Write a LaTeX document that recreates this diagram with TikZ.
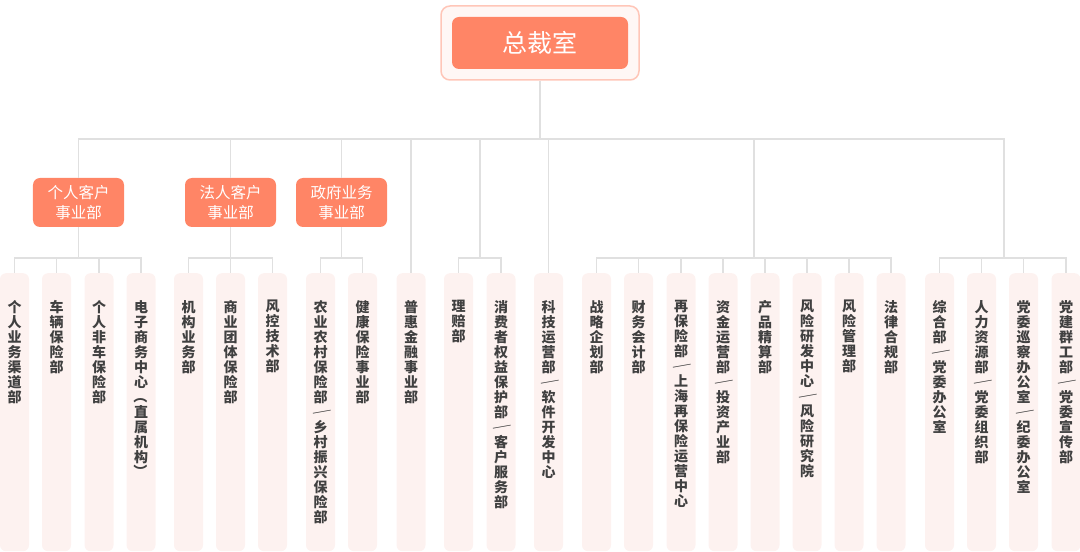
\documentclass[tikz,border=0pt]{standalone}
\usepackage{fontspec}
\usepackage{graphicx}
\setmainfont{Noto Sans CJK SC}
\usepackage{tikz}

\definecolor{coral}{HTML}{FF8566}
\definecolor{coralrim}{HTML}{FFC6B8}
\definecolor{coralpale}{HTML}{FFF7F5}
\definecolor{deptfill}{HTML}{FDF2F0}
\definecolor{depttext}{HTML}{404040}
\definecolor{linkgray}{HTML}{E0E0E0}

\makeatletter
\newcommand\slsh{\rotatebox[origin=c]{-35}{／}}
\newcommand\lpar{\rotatebox[origin=c]{-90}{（}}
\newcommand\rpar{\rotatebox[origin=c]{-90}{）}}
\newcommand\vlabel[1]{\parbox[t][224bp][t]{16bp}{\centering\baselineskip=15bp\lineskip=0pt\lineskiplimit=-5bp\@tfor\vl@c:=#1\do{\vl@c\par}}}
\makeatother

\begin{document}
\begin{tikzpicture}[x=1bp,y=-1bp,
	ceoframe/.style={draw=coralrim, line width=1.5bp, fill=coralpale, rounded corners=9bp, minimum width=198bp, minimum height=74bp},
	ceo/.style={fill=coral, text=white, rounded corners=7bp, minimum width=176bp, minimum height=52bp, font=\fontsize{25bp}{28bp}\selectfont},
	unit/.style={fill=coral, text=white, rounded corners=7bp, minimum width=91bp, minimum height=49bp, inner sep=0pt, align=center, font=\fontsize{15.5bp}{19.5bp}\selectfont},
	dept/.style={fill=deptfill, text=depttext, rounded corners=6bp, anchor=north, minimum width=29bp, inner xsep=6.5bp, inner ysep=27bp, font=\fontsize{14bp}{15bp}\selectfont\bfseries},
	link/.style={draw=linkgray, line width=1.6bp}]
	\useasboundingbox (0,0) rectangle (1080,552);
	% top
	\node[ceoframe] (top) at (540,43) {};
	\node[ceo] (ceo) at (540,43) {总裁室};
	% business units
	\node[unit] (grp) at (78.5,202.5) {个人客户\\事业部};
	\node[unit] (frk) at (230.5,202.5) {法人客户\\事业部};
	\node[unit] (zf) at (341.5,202.5) {政府业务\\事业部};
	% departments
	\node[dept] (gr) at (14.5,273) {\vlabel{个人业务渠道部}};
	\node[dept] (cl) at (56.5,273) {\vlabel{车辆保险部}};
	\node[dept] (fc) at (99,273) {\vlabel{个人非车保险部}};
	\node[dept] (ec) at (141,273) {\vlabel{电子商务中心\lpar 直属机构\rpar}};
	\node[dept] (jg) at (188.5,273) {\vlabel{机构业务部}};
	\node[dept] (tt) at (230.5,273) {\vlabel{商业团体保险部}};
	\node[dept] (fk) at (272.5,273) {\vlabel{风控技术部}};
	\node[dept] (ny) at (320.5,273) {\vlabel{农业农村保险部\slsh 乡村振兴保险部}};
	\node[dept] (jk) at (362.5,273) {\vlabel{健康保险事业部}};
	\node[dept] (ph) at (411,273) {\vlabel{普惠金融事业部}};
	\node[dept] (lp) at (458.5,273) {\vlabel{理赔部}};
	\node[dept] (xb) at (501,273) {\vlabel{消费者权益保护部\slsh 客户服务部}};
	\node[dept] (kj) at (548.5,273) {\vlabel{科技运营部\slsh 软件开发中心}};
	\node[dept] (zl) at (596.5,273) {\vlabel{战略企划部}};
	\node[dept] (cw) at (638.5,273) {\vlabel{财务会计部}};
	\node[dept] (zb) at (681,273) {\vlabel{再保险部\slsh 上海再保险运营中心}};
	\node[dept] (zj) at (723,273) {\vlabel{资金运营部\slsh 投资产业部}};
	\node[dept] (cp) at (765,273) {\vlabel{产品精算部}};
	\node[dept] (fy) at (807,273) {\vlabel{风险研发中心\slsh 风险研究院}};
	\node[dept] (fg) at (849,273) {\vlabel{风险管理部}};
	\node[dept] (fl) at (891,273) {\vlabel{法律合规部}};
	\node[dept] (zh) at (939.5,273) {\vlabel{综合部\slsh 党委办公室}};
	\node[dept] (rl) at (981.5,273) {\vlabel{人力资源部\slsh 党委组织部}};
	\node[dept] (xc) at (1023.5,273) {\vlabel{党委巡察办公室\slsh 纪委办公室}};
	\node[dept] (dj) at (1066,273) {\vlabel{党建群工部\slsh 党委宣传部}};
	% junctions
	\coordinate (bus) at (540,139);
	\coordinate (j1) at (78.5,258);
	\coordinate (j2) at (230.5,258);
	\coordinate (j3) at (341.5,258);
	\coordinate (j5) at (480,258);
	\coordinate (j6) at (754,258);
	\coordinate (j7) at (1004,258);
	% links
	\draw[link] (top.south) -- (bus);
	\foreach \n in {grp,frk,zf,ph,kj,j5,j6,j7}
		\draw[link] (\n) |- (bus);
	\draw[link] (grp.south) -- (j1);
	\draw[link] (frk.south) -- (j2);
	\draw[link] (zf.south) -- (j3);
	\foreach \n in {gr,cl,fc,ec}
		\draw[link] (\n.north) |- (j1);
	\foreach \n in {jg,tt,fk}
		\draw[link] (\n.north) |- (j2);
	\foreach \n in {ny,jk}
		\draw[link] (\n.north) |- (j3);
	\foreach \n in {lp,xb}
		\draw[link] (\n.north) |- (j5);
	\foreach \n in {zl,cw,zb,zj,cp,fy,fg,fl}
		\draw[link] (\n.north) |- (j6);
	\foreach \n in {zh,rl,xc,dj}
		\draw[link] (\n.north) |- (j7);
\end{tikzpicture}
\end{document}
